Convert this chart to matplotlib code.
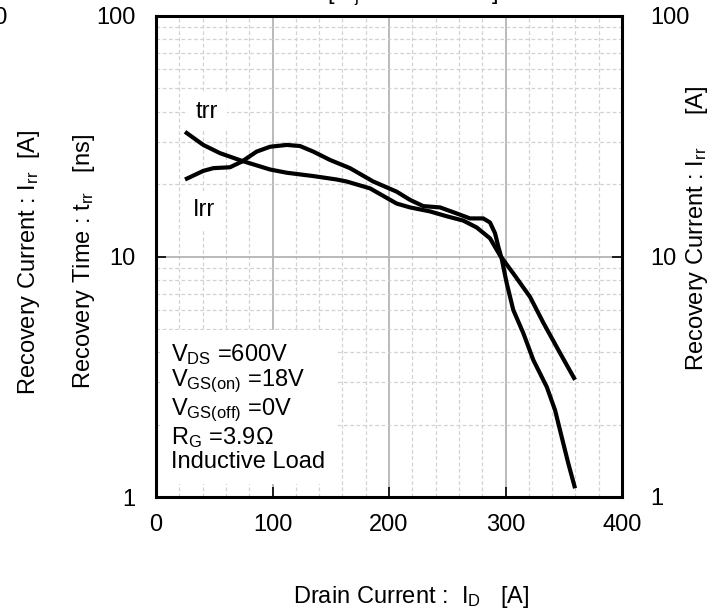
import matplotlib
matplotlib.use("Agg")
import matplotlib.pyplot as plt
from matplotlib.ticker import FixedLocator, NullFormatter

plt.rcParams['font.family'] = ['Liberation Sans', 'DejaVu Sans']
plt.rcParams['mathtext.fontset'] = 'custom'
plt.rcParams['mathtext.rm'] = 'Liberation Sans'
plt.rcParams['mathtext.it'] = 'Liberation Sans'
plt.rcParams['mathtext.default'] = 'regular'

# ---- data ----
trr_x = [24.9, 40.6, 54.9, 73.6, 97.9, 112.2, 135, 155.1, 163.7, 183.7, 206.6, 218,
         235.2, 249.5, 263.8, 275.3, 286.7, 295.3, 306.7, 321, 332.5, 345.3, 359.7]
trr_y = [33.0, 29.1, 26.9, 25.0, 23.0, 22.3, 21.6, 20.9, 20.5, 19.2, 16.6, 16.0,
         15.4, 14.7, 14.1, 13.2, 11.9, 10.1, 8.5, 6.8, 5.3, 4.09, 3.07]

irr_x = [24.9, 40.6, 49.2, 63.5, 73.6, 86.4, 97.9, 112.2, 123.6, 135, 149.4, 166.5,
         186.5, 206.6, 218, 229.4, 243.8, 258.1, 269.5, 280.9, 286.7, 291, 293.8,
         296.7, 301, 306.7, 315.3, 323.9, 335.4, 342.5, 348.2, 353.9, 359.7]
irr_y = [20.9, 22.7, 23.3, 23.5, 24.8, 27.3, 28.6, 29.1, 28.8, 27.3, 25.2, 23.3,
         20.5, 18.6, 17.2, 16.2, 16.0, 15.1, 14.4, 14.4, 13.85, 12.5, 11.0,
         9.8, 7.76, 5.99, 4.8, 3.71, 2.87, 2.30, 1.78, 1.38, 1.087]

x_ticks = [0, 100, 200, 300, 400]
y_ticks = [1, 10, 100]
y_tick_labels = ["1", "10", "100"]

conditions = ("$V_{DS}$ =600V\n$V_{GS(on)}$ =18V\n$V_{GS(off)}$ =0V\n"
              "$R_{G}$ =3.9\u03A9\nInductive Load")

FS = 17
W, H = 723, 611
fig = plt.figure(figsize=(W / 100, H / 100), dpi=100)
ax = fig.add_axes([156 / W, 1 - 497 / H, (622 - 156) / W, (497 - 16) / H])

ax.set_xlim(0, 400)
ax.set_yscale('log')
ax.set_ylim(1, 100)

# grid
ax.xaxis.set_major_locator(FixedLocator(x_ticks))
ax.xaxis.set_minor_locator(FixedLocator([v for v in range(20, 400, 20) if v % 100 != 0]))
ax.yaxis.set_major_locator(FixedLocator(y_ticks))
ax.yaxis.set_minor_locator(FixedLocator([m * d for d in (1, 10) for m in range(2, 10)]))
ax.yaxis.set_minor_formatter(NullFormatter())
ax.set_yticklabels(y_tick_labels)
ax.grid(True, which='major', color='#b4b4b4', lw=1.3, ls='-')
ax.grid(True, which='minor', color='#d2d2d2', lw=0.9, ls=(0, (3, 2)))
ax.set_axisbelow(True)

ax.tick_params(which='major', direction='in', length=7, width=1.2, labelsize=FS,
               right=False, top=False)
ax.tick_params(axis='y', which='major', pad=15)
ax.tick_params(axis='x', which='major', pad=12)
ax.tick_params(which='minor', length=0)
for s in ax.spines.values():
    s.set_linewidth(2.2)
    s.set_color('black')

ax.plot(trr_x, trr_y, color='black', lw=3.0, solid_capstyle='butt')
ax.plot(irr_x, irr_y, color='black', lw=3.0, solid_capstyle='butt')

ax.text(44, 40, "trr", fontsize=FS, ha='center', va='center',
        bbox=dict(facecolor='white', edgecolor='none', pad=6))
ax.text(41, 15.6, "Irr", fontsize=FS, ha='center', va='center',
        bbox=dict(facecolor='white', edgecolor='none', pad=6))
ax.text(13, 2.36, conditions, fontsize=FS, ha='left', va='center', linespacing=1.06,
        bbox=dict(facecolor='white', edgecolor='none', pad=8))

# right axis
ax2 = ax.twinx()
ax2.set_yscale('log')
ax2.set_ylim(1, 100)
ax2.yaxis.set_major_locator(FixedLocator(y_ticks))
ax2.yaxis.set_minor_locator(FixedLocator([]))
ax2.set_yticklabels(y_tick_labels)
ax2.tick_params(which='major', direction='in', length=7, width=1.2, labelsize=FS, pad=20)
for s in ax2.spines.values():
    s.set_visible(False)

# axis titles
fig.text(84 / W, 1 - 261 / H, "Recovery Time : t$_{rr}$   [ns]", fontsize=FS,
         rotation=90, ha='center', va='center')
fig.text(29 / W, 1 - 262 / H, "Recovery Current : I$_{rr}$  [A]", fontsize=FS,
         rotation=90, ha='center', va='center')
fig.text(697 / W, 1 - 228 / H, "Recovery Current : I$_{rr}$     [A]", fontsize=FS,
         rotation=90, ha='center', va='center')
fig.text(411 / W, 1 - 597 / H, "Drain Current :  I$_{D}$   [A]", fontsize=FS,
         ha='center', va='center')

# outer (cropped) left axis tick label
fig.text(8 / W, 1 - 18 / H, "100", fontsize=FS, ha='right', va='center')
# cropped title
fig.text(413 / W, 1 + 1 / H, "[ T$_{j}$     =  25\u00b0C   ]", fontsize=FS,
         ha='center', va='baseline')

fig.savefig("out.png", dpi=100)
